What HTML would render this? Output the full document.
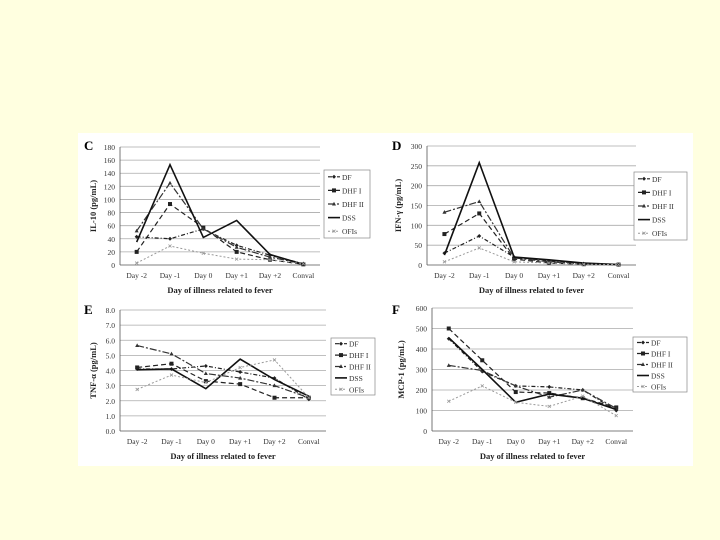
<!DOCTYPE html>
<html><head><meta charset="utf-8"><style>
html,body{margin:0;padding:0;background:#ffffe0;}
body{width:720px;height:540px;position:relative;overflow:hidden;}
#fig{position:absolute;left:78px;top:133px;width:615px;height:333px;background:#fff;}
svg{position:absolute;left:0;top:0;}
text{font-family:"Liberation Serif",serif;}
</style></head><body>
<div id="fig"></div>
<svg id="chart" width="720" height="540"></svg>
<script>
const categories = ["Day -2","Day -1","Day 0","Day +1","Day +2","Conval"];
const seriesNames = ["DF","DHF I","DHF II","DSS","OFIs"];
const cDF=[43,40,55,30,15,2], cDHF1=[20,93,57,20,8,1], cDHF2=[52,125,55,27,12,2], cDSS=[35,153,42,68,16,1], cOFI=[3,29,18,9,8,2];
const cTicks=[0,20,40,60,80,100,120,140,160,180];
const dDF=[30,73,20,10,3,1], dDHF1=[78,130,15,5,2,1], dDHF2=[133,160,18,8,3,1], dDSS=[25,258,20,13,5,1], dOFI=[8,43,8,5,2,1];
const dTicks=[0,50,100,150,200,250,300];
const eDF=[4.1,4.1,4.3,3.9,3.5,2.1], eDHF1=[4.2,4.45,3.3,3.1,2.2,2.2], eDHF2=[5.65,5.1,3.8,3.5,3.0,2.2], eDSS=[4.05,4.1,2.8,4.75,3.4,2.3], eOFI=[2.75,3.7,3.2,4.2,4.7,2.2];
const eTicks=["0.0","1.0","2.0","3.0","4.0","5.0","6.0","7.0","8.0"];
const fDF=[450,290,220,215,200,100], fDHF1=[500,345,190,185,160,115], fDHF2=[320,295,220,165,200,110], fDSS=[455,300,140,180,160,105], fOFI=[145,220,140,120,170,75];
const fTicks=[0,100,200,300,400,500,600];

const NS="http://www.w3.org/2000/svg";
const svg=document.getElementById('chart');
function mk(tag,attrs,parent){const e=document.createElementNS(NS,tag);for(const k in attrs)e.setAttribute(k,attrs[k]);(parent||svg).appendChild(e);return e;}
const styles=[
 {dash:"4,2,1,2",w:1.2,c:"#222",m:"diamond"},
 {dash:"5,3",w:1.2,c:"#222",m:"square"},
 {dash:"7,2,2,2",w:1.2,c:"#333",m:"triangle"},
 {dash:"",w:1.6,c:"#111",m:"none"},
 {dash:"2,2",w:1,c:"#999",m:"x"}];
function marker(g,t,x,y,c){
 if(t==="diamond"){const e=mk('path',{d:`M${x} ${y-2}L${x+2} ${y}L${x} ${y+2}L${x-2} ${y}Z`,fill:c},g);return e;}
 if(t==="square"){return mk('rect',{x:x-2,y:y-2,width:4,height:4,fill:c},g);}
 if(t==="triangle"){return mk('path',{d:`M${x} ${y-2.2}L${x+2} ${y+1.5}L${x-2} ${y+1.5}Z`,fill:c},g);}
 if(t==="x"){return mk('path',{d:`M${x-1.5} ${y-1.5}L${x+1.5} ${y+1.5}M${x+1.5} ${y-1.5}L${x-1.5} ${y+1.5}`,stroke:c,'stroke-width':0.8},g);}
 return null;
}
function panel(p){
 const g=mk('g',{});
 
 
 const maxV=Number(p.ticks[p.ticks.length-1]);
 const yS=v=>p.y1-(v/maxV)*(p.y1-p.y0);
 const band=(p.x1-p.x0)/categories.length;
 const xS=i=>p.x0+band*(i+0.5);
 p.ticks.forEach(t=>{
  const y=yS(Number(t));
  const gl=mk('line',{x1:p.x0,x2:p.x1,y1:y,y2:y,stroke:t==0?"#555":"#aaa",'stroke-width':0.8},g);
   
  const tl=mk('text',{x:p.x0-5,y:y+3,'text-anchor':'end','font-size':7.5,fill:'#333'},g);
  tl.textContent=t;
   
 });
 const ax=mk('line',{x1:p.x0,x2:p.x0,y1:p.y0,y2:p.y1,stroke:'#555','stroke-width':0.8},g);
  
 categories.forEach((c,i)=>{
  const tl=mk('text',{x:xS(i),y:p.y1+13,'text-anchor':'middle','font-size':7.5,fill:'#333'},g);
  tl.textContent=c;
   
 });
 const xt=mk('text',{x:(p.x0+p.x1)/2,y:p.y1+28,'text-anchor':'middle','font-size':8.5,'font-weight':'bold',fill:'#222'},g);
 xt.textContent="Day of illness related to fever";
  
 const yt=mk('text',{x:0,y:0,'text-anchor':'middle','font-size':8.5,'font-weight':'bold',fill:'#222',transform:`translate(${p.ytx},${(p.y0+p.y1)/2}) rotate(-90)`},g);
 yt.textContent=p.ytitle;
  
 const lt=mk('text',{x:p.lx,y:p.ly,'font-size':13,'font-weight':'bold','font-family':'Liberation Sans, sans-serif',fill:'#000'},g);
 lt.textContent=p.letter;
  
 p.series.forEach((s,k)=>{
  const st=styles[k];
  const pts=s.map((v,i)=>xS(i)+","+yS(v)).join(" ");
  const pl=mk('polyline',{points:pts,fill:'none',stroke:st.c,'stroke-width':st.w,'stroke-dasharray':st.dash},g);
  
  
  s.forEach((v,i)=>{const m=marker(g,st.m,xS(i),yS(v),st.c); if(m){
    }});
 });
 const L=p.leg;
 const lb=mk('rect',{x:L.x,y:L.y,width:L.w,height:L.h,fill:'#fff',stroke:'#888','stroke-width':0.7},g);
  
 const step=L.h/5;
 seriesNames.forEach((n,k)=>{
  const st=styles[k]; const y=L.y+step*(k+0.5);
  mk('line',{x1:L.x+4,x2:L.x+16,y1:y,y2:y,stroke:st.c,'stroke-width':st.w,'stroke-dasharray':st.dash},g);
  marker(g,st.m,L.x+10,y,st.c);
  const t=mk('text',{x:L.x+18,y:y+3,'font-size':7.5,fill:'#333'},g);
  t.textContent=n;
   
 });
}
panel({letter:"C",x0:120,x1:320,y0:147,y1:265,ticks:cTicks,series:[cDF,cDHF1,cDHF2,cDSS,cOFI],ytitle:"IL-10 (pg/mL)",ytx:96,lx:84,ly:150,leg:{x:324,y:170,w:46,h:68}});
panel({letter:"D",x0:427,x1:636,y0:146,y1:265,ticks:dTicks,series:[dDF,dDHF1,dDHF2,dDSS,dOFI],ytitle:"IFN-γ (pg/mL)",ytx:401,lx:392,ly:150,leg:{x:634,y:172,w:53,h:68}});
panel({letter:"E",x0:120,x1:326,y0:310,y1:431,ticks:eTicks,series:[eDF,eDHF1,eDHF2,eDSS,eOFI],ytitle:"TNF-α (pg/mL)",ytx:96,lx:84,ly:314,leg:{x:331,y:338,w:44,h:57}});
panel({letter:"F",x0:432,x1:633,y0:308,y1:431,ticks:fTicks,series:[fDF,fDHF1,fDHF2,fDSS,fOFI],ytitle:"MCP-1 (pg/mL)",ytx:404,lx:392,ly:314,leg:{x:633,y:337,w:54,h:55}});
</script>
</body></html>
